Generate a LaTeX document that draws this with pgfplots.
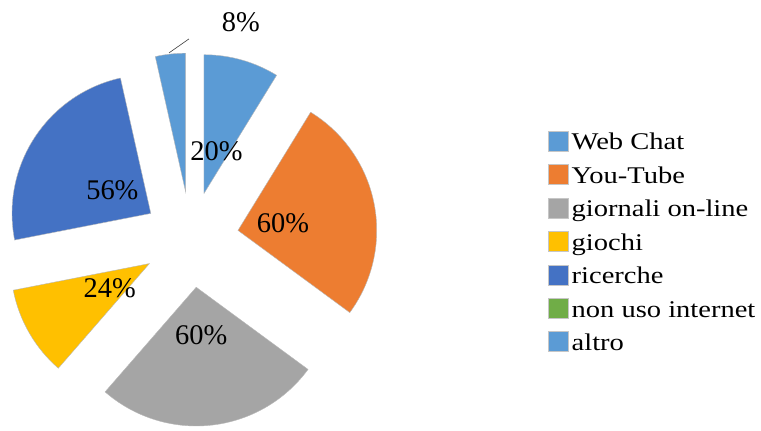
\documentclass[border=0pt]{standalone}
\usepackage{fontspec}
\setmainfont{Liberation Serif}
\newfontfamily\legfont{Liberation Serif}[FakeStretch=1.19]
\usepackage{pgfplots}
\pgfplotsset{compat=1.18}

\definecolor{cWeb}{HTML}{5B9BD5}
\definecolor{cYou}{HTML}{ED7D31}
\definecolor{cGio}{HTML}{A5A5A5}
\definecolor{cGch}{HTML}{FFC000}
\definecolor{cRic}{HTML}{4472C4}
\definecolor{cNon}{HTML}{70AD47}
\definecolor{cAlt}{HTML}{5B9BD5}

% data: value (percent) / colour
\def\piedata{20/cWeb,60/cYou,60/cGio,24/cGch,56/cRic,0/cNon,8/cAlt}
\def\cx{190}\def\cy{188}\def\R{139}\def\expl{48}\def\lab{94}
\newcommand\labfont{\fontsize{28.5}{32}\selectfont}

\begin{document}
\begin{tikzpicture}
\xdef\pietotal{0}
\foreach \v/\c in \piedata {\pgfmathsetmacro\t{\pietotal+\v}\xdef\pietotal{\t}}
\xdef\cum{0}
\foreach \v/\c [count=\i] in \piedata {
  \pgfmathsetmacro\s{\cum}
  \pgfmathsetmacro\e{\cum+\v/\pietotal*360}
  \pgfmathsetmacro\m{90-(\s+\e)/2}
  \pgfmathsetmacro\ax{\cx+\expl*cos(\m)}
  \pgfmathsetmacro\ay{\cy+\expl*sin(\m)}
  \pgfmathsetmacro\bx{\ax+\R*cos(90-\s)}
  \pgfmathsetmacro\by{\ay+\R*sin(90-\s)}
  \pgfmathsetmacro\lx{\cx+\lab*cos(\m)}
  \pgfmathsetmacro\ly{\cy+\lab*sin(\m)-2}
  \pgfmathsetmacro\sa{90-\s}
  \pgfmathsetmacro\ea{90-\e}
  \expandafter\xdef\csname pieslice\i\endcsname{%
    \noexpand\fill[fill=\c, draw=gray!55, line width=0.4pt] (axis cs:\ax,\ay) -- (axis cs:\bx,\by) arc[start angle=\sa, end angle=\ea, radius=\R pt] -- cycle;}
  \expandafter\xdef\csname pielabel\i\endcsname{%
    \noexpand\node[font=\noexpand\labfont, inner sep=0pt] at (axis cs:\lx,\ly) {\v\noexpand\%};}
  \xdef\cum{\e}
}
\begin{axis}[
  x=1pt, y=1pt, xmin=0, xmax=761, ymin=0, ymax=428,
  scale only axis, hide axis, disabledatascaling, clip=false,
  legend image code/.code={\fill[#1, draw=gray!45, line width=0.4pt] (0pt,-1pt) rectangle (20pt,19pt);},
  legend cell align=left,
  legend style={at={(axis description cs:0.7201,0.6939)}, anchor=north west,
    draw=none, fill=none, inner sep=0pt, outer sep=0pt,
    row sep=9.3pt, column sep=3pt,
    font=\legfont\fontsize{24}{28}\selectfont,
    cells={anchor=base west},
    nodes={inner sep=0pt, text height=17pt, text depth=5pt}},
]
\path (axis cs:0,0) rectangle (axis cs:761,428);
\csname pieslice1\endcsname
\csname pieslice2\endcsname
\csname pieslice3\endcsname
\csname pieslice4\endcsname
\csname pieslice5\endcsname
\csname pieslice7\endcsname
\csname pielabel1\endcsname
\csname pielabel2\endcsname
\csname pielabel3\endcsname
\csname pielabel4\endcsname
\csname pielabel5\endcsname
\node[font=\labfont, inner sep=0pt] at (axis cs:240,406) {8\%};
\draw[black!75, line width=0.6pt] (axis cs:168,375) -- (axis cs:188,389);
\addlegendimage{fill=cWeb}
\addlegendimage{fill=cYou}
\addlegendimage{fill=cGio}
\addlegendimage{fill=cGch}
\addlegendimage{fill=cRic}
\addlegendimage{fill=cNon}
\addlegendimage{fill=cAlt}
\legend{Web Chat, You-Tube, giornali on-line, giochi, ricerche, non uso internet, altro}
\end{axis}
\end{tikzpicture}
\end{document}
